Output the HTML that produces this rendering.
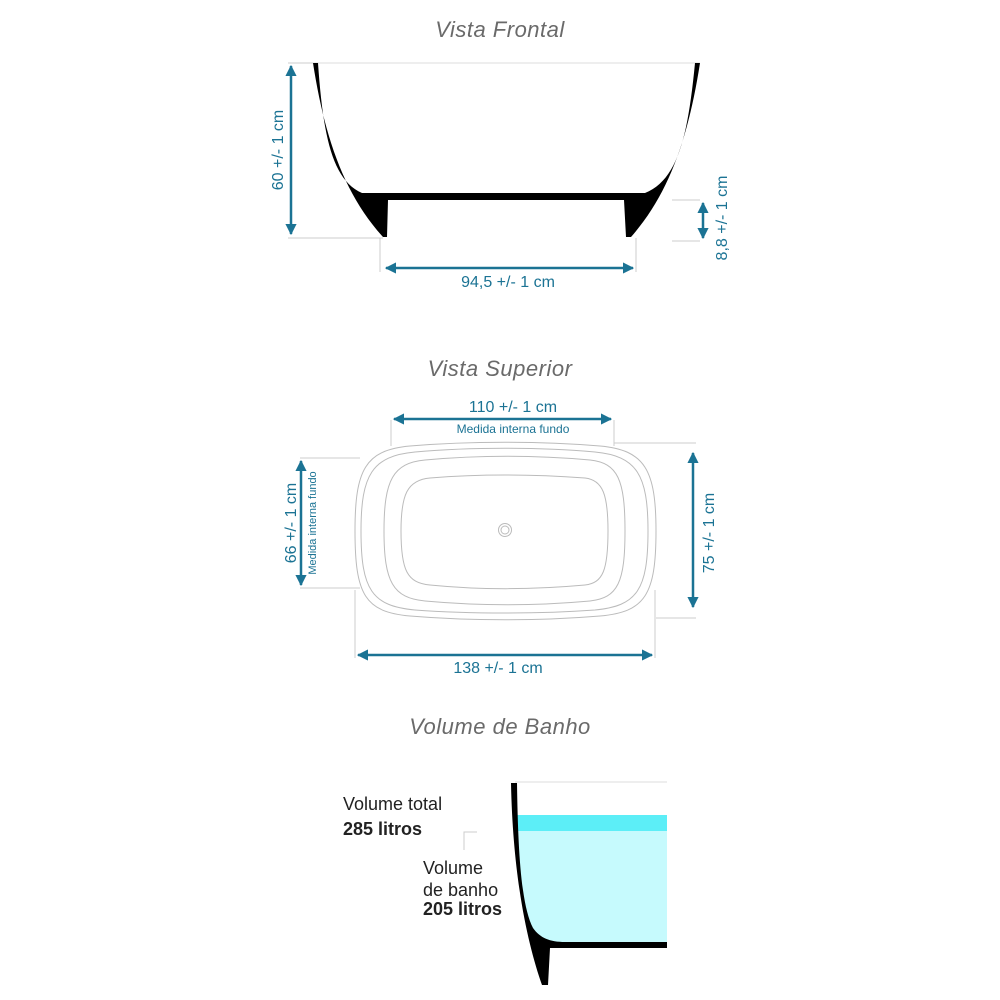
<!DOCTYPE html>
<html><head><meta charset="utf-8"><style>
html,body{margin:0;padding:0;background:#fff}
svg{display:block}
text{font-family:"Liberation Sans",sans-serif}
</style></head><body>
<svg width="1000" height="1000" viewBox="0 0 1000 1000" xmlns="http://www.w3.org/2000/svg">
<defs>
<marker id="a" viewBox="0 0 10 10" refX="9" refY="5" markerWidth="4.5" markerHeight="4.5" orient="auto-start-reverse" markerUnits="strokeWidth"><path d="M0,0 L10,5 L0,10 Z" fill="#1b7394"/></marker>
</defs>
<g fill="#6a6a6a" font-style="italic" font-size="22" text-anchor="middle" letter-spacing="0.5">
<text x="500" y="37">Vista Frontal</text>
<text x="500" y="376">Vista Superior</text>
<text x="500" y="734">Volume de Banho</text>
</g>
<!-- front view -->
<line x1="313" y1="63" x2="700" y2="63" stroke="#ddd" stroke-width="1"/>
<path d="M313,63 C325,140 345,195 383,237 L387,237 L388,200 L624,200 L626,237 L631,237 C668,195 688,140 700,63 L695,63 C688,135 678,180 645,193 L362,193 C332,180 323,135 318,63 Z" fill="#000"/>
<g stroke="#ccc" stroke-width="1">
<line x1="288" y1="63" x2="313" y2="63"/><line x1="288" y1="238" x2="383" y2="238"/>
<line x1="380" y1="238" x2="380" y2="272"/><line x1="636" y1="238" x2="636" y2="272"/>
<line x1="672" y1="200" x2="700" y2="200"/><line x1="672" y1="241" x2="700" y2="241"/>
</g>
<g stroke="#1b7394" stroke-width="2.5" fill="none">
<line x1="291" y1="66" x2="291" y2="234" marker-start="url(#a)" marker-end="url(#a)"/>
<line x1="386" y1="268" x2="633" y2="268" marker-start="url(#a)" marker-end="url(#a)"/>
<line x1="703" y1="203" x2="703" y2="238" marker-start="url(#a)" marker-end="url(#a)"/>
</g>
<g fill="#1b7394" font-size="16" text-anchor="middle">
<text transform="translate(283,150) rotate(-90)">60 +/- 1 cm</text>
<text x="508" y="287">94,5 +/- 1 cm</text>
<text transform="translate(727,218) rotate(-90)">8,8 +/- 1 cm</text>
</g>
<!-- top view -->
<g fill="none" stroke="#bbb" stroke-width="1">
<path d="M410,446 C470,441 540,441 600,446 C645,450 656,470 656,531 C656,595 645,612 600,616 C540,621 470,621 410,616 C365,612 355,595 355,531 C355,470 365,450 410,446 Z"/>
<path d="M415,452 C470,447 540,447 595,452 C637,456 648,475 648,531 C648,590 637,606 595,610 C540,614 470,614 415,610 C372,606 361,590 361,531 C361,475 372,456 415,452 Z"/>
<path d="M425,460 C480,455 535,455 590,460 C618,463 625,480 625,531 C625,582 618,598 590,601 C535,606 480,606 425,601 C393,598 384,582 384,531 C384,480 393,463 425,460 Z"/>
<path d="M430,478 C480,474 530,474 585,478 C603,480 608,495 608,531 C608,570 603,583 585,585 C530,590 480,590 430,585 C407,583 401,570 401,531 C401,495 407,480 430,478 Z"/>
<circle cx="505" cy="530" r="6.5"/><circle cx="505" cy="530" r="4"/>
</g>
<g stroke="#ccc" stroke-width="1">
<line x1="391" y1="420" x2="391" y2="446"/><line x1="614" y1="420" x2="614" y2="446"/>
<line x1="614" y1="443" x2="696" y2="443"/><line x1="656" y1="618" x2="696" y2="618"/>
<line x1="300" y1="458" x2="360" y2="458"/><line x1="300" y1="588" x2="360" y2="588"/>
<line x1="355" y1="590" x2="355" y2="658"/><line x1="655" y1="590" x2="655" y2="658"/>
</g>
<g stroke="#1b7394" stroke-width="2.5" fill="none">
<line x1="394" y1="419" x2="611" y2="419" marker-start="url(#a)" marker-end="url(#a)"/>
<line x1="693" y1="453" x2="693" y2="607" marker-start="url(#a)" marker-end="url(#a)"/>
<line x1="301" y1="461" x2="301" y2="585" marker-start="url(#a)" marker-end="url(#a)"/>
<line x1="358" y1="655" x2="652" y2="655" marker-start="url(#a)" marker-end="url(#a)"/>
</g>
<g fill="#1b7394" text-anchor="middle">
<text x="513" y="412" font-size="16">110 +/- 1 cm</text>
<text x="513" y="433" font-size="12">Medida interna fundo</text>
<text transform="translate(714,533) rotate(-90)" font-size="16">75 +/- 1 cm</text>
<text transform="translate(296,523) rotate(-90)" font-size="16">66 +/- 1 cm</text>
<text transform="translate(316,523) rotate(-90)" font-size="11">Medida interna fundo</text>
<text x="498" y="673" font-size="16">138 +/- 1 cm</text>
</g>
<!-- volume -->
<line x1="515" y1="782" x2="667" y2="782" stroke="#ddd" stroke-width="1"/>
<path d="M517,831 L667,831 L667,944 L560,944 C545,942 535,935 530,925 C522,905 518,870 517,831 Z" fill="#c6fafd"/>
<rect x="516" y="815" width="151" height="16" fill="#5ceef7"/>
<path d="M511,783 L517,783 C518,850 521,905 533,928 C540,938 550,942 565,942 L667,942 L667,948 L550,948 L548,985 L542,985 C528,945 513,880 511,783 Z" fill="#000"/>
<path d="M477,832 L464,832 L464,850" fill="none" stroke="#ccc" stroke-width="1"/>
<g fill="#222" font-size="18">
<text x="343" y="810">Volume total</text>
<text x="343" y="835" font-weight="bold">285 litros</text>
<text x="423" y="874">Volume</text>
<text x="423" y="896">de banho</text>
<text x="423" y="915" font-weight="bold">205 litros</text>
</g>
</svg>
</body></html>
